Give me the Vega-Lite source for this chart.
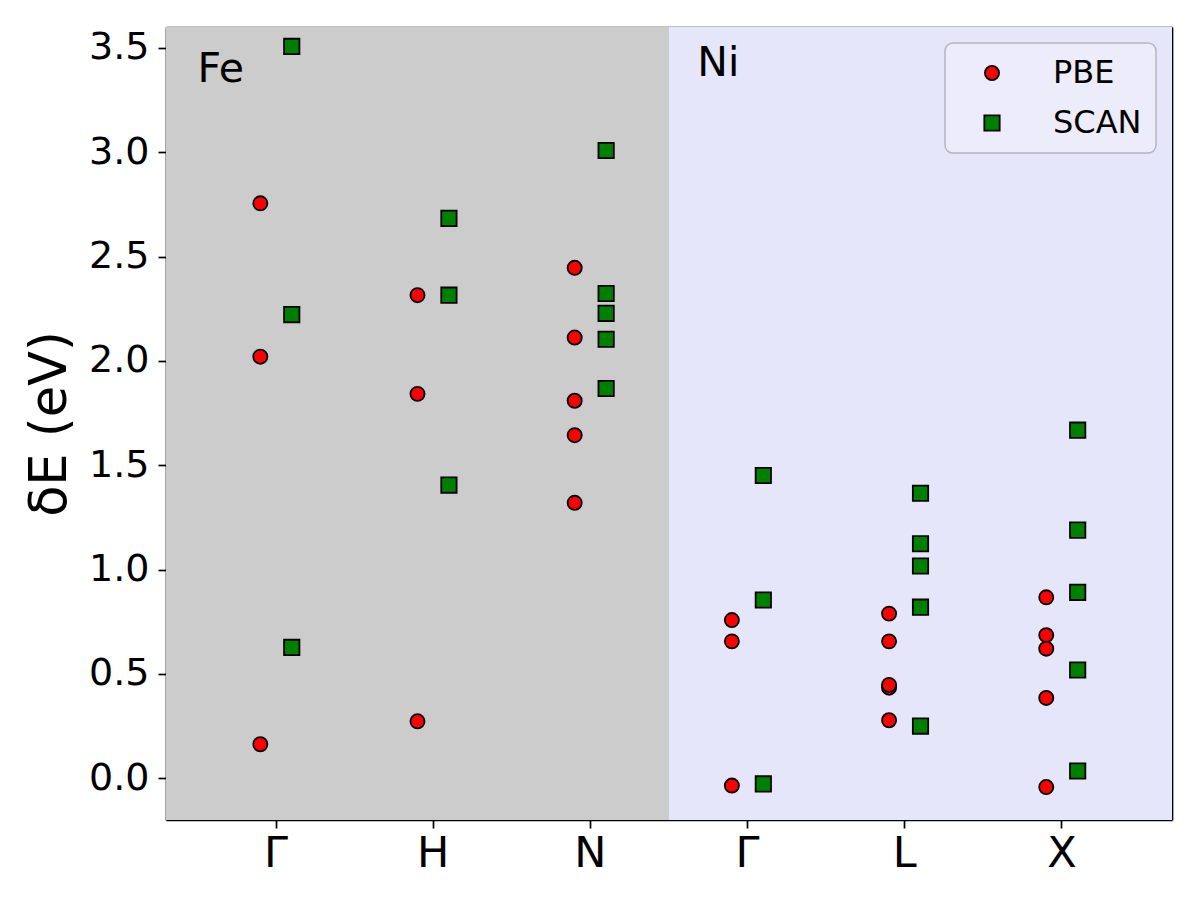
{
  "$schema": "https://vega.github.io/schema/vega-lite/v6.json",
  "width": 1006,
  "height": 793,
  "autosize": {"type": "none"},
  "padding": {"left": 166, "top": 27, "right": 28, "bottom": 80},
  "background": "white",
  "config": {
    "font": "DejaVu Sans",
    "view": {"stroke": null},
    "axis": {
      "zindex": 1,
      "grid": false,
      "domainColor": "black",
      "domainWidth": 1.7,
      "tickColor": "black",
      "tickWidth": 1.7,
      "labelColor": "black",
      "titleColor": "black",
      "labelFont": "DejaVu Sans",
      "titleFont": "DejaVu Sans"
    },
    "legend": {
      "orient": "top-right",
      "offset": 16,
      "padding": 14,
      "fillColor": "#ececfa",
      "strokeColor": "#b4b4c4",
      "strokeWidth": 1.5,
      "cornerRadius": 8,
      "labelFont": "DejaVu Sans",
      "labelFontSize": 32,
      "labelColor": "black",
      "symbolOffset": 17,
      "labelOffset": 45,
      "rowPadding": 18,
      "symbolStrokeWidth": 1.8
    }
  },
  "datasets": {
    "regions": [
      {"region": "Fe", "start": -0.7, "end": 2.5, "low": -0.2, "high": 3.6},
      {"region": "Ni", "start": 2.5, "end": 5.7, "low": -0.2, "high": 3.6}
    ],
    "labels": [
      {"label": "Fe", "x": -0.5, "y": 3.335},
      {"label": "Ni", "x": 2.68, "y": 3.367}
    ],
    "points": [
      {"kpt": "Fe-Γ", "method": "PBE", "E": 2.755},
      {"kpt": "Fe-Γ", "method": "PBE", "E": 2.02},
      {"kpt": "Fe-Γ", "method": "PBE", "E": 0.163},
      {"kpt": "Fe-Γ", "method": "SCAN", "E": 3.507},
      {"kpt": "Fe-Γ", "method": "SCAN", "E": 2.222},
      {"kpt": "Fe-Γ", "method": "SCAN", "E": 0.627},
      {"kpt": "Fe-H", "method": "PBE", "E": 2.315},
      {"kpt": "Fe-H", "method": "PBE", "E": 1.842},
      {"kpt": "Fe-H", "method": "PBE", "E": 0.273},
      {"kpt": "Fe-H", "method": "SCAN", "E": 2.683},
      {"kpt": "Fe-H", "method": "SCAN", "E": 2.315},
      {"kpt": "Fe-H", "method": "SCAN", "E": 1.405},
      {"kpt": "Fe-N", "method": "PBE", "E": 2.446},
      {"kpt": "Fe-N", "method": "PBE", "E": 2.112},
      {"kpt": "Fe-N", "method": "PBE", "E": 1.809},
      {"kpt": "Fe-N", "method": "PBE", "E": 1.644},
      {"kpt": "Fe-N", "method": "PBE", "E": 1.32},
      {"kpt": "Fe-N", "method": "SCAN", "E": 3.008},
      {"kpt": "Fe-N", "method": "SCAN", "E": 2.323},
      {"kpt": "Fe-N", "method": "SCAN", "E": 2.228},
      {"kpt": "Fe-N", "method": "SCAN", "E": 2.104},
      {"kpt": "Fe-N", "method": "SCAN", "E": 1.868},
      {"kpt": "Ni-Γ", "method": "PBE", "E": 0.758},
      {"kpt": "Ni-Γ", "method": "PBE", "E": 0.656},
      {"kpt": "Ni-Γ", "method": "PBE", "E": -0.035},
      {"kpt": "Ni-Γ", "method": "SCAN", "E": 1.451},
      {"kpt": "Ni-Γ", "method": "SCAN", "E": 0.854},
      {"kpt": "Ni-Γ", "method": "SCAN", "E": -0.027},
      {"kpt": "Ni-L", "method": "PBE", "E": 0.789},
      {"kpt": "Ni-L", "method": "PBE", "E": 0.656},
      {"kpt": "Ni-L", "method": "PBE", "E": 0.434},
      {"kpt": "Ni-L", "method": "PBE", "E": 0.447},
      {"kpt": "Ni-L", "method": "PBE", "E": 0.278},
      {"kpt": "Ni-L", "method": "SCAN", "E": 1.366},
      {"kpt": "Ni-L", "method": "SCAN", "E": 1.124},
      {"kpt": "Ni-L", "method": "SCAN", "E": 1.017},
      {"kpt": "Ni-L", "method": "SCAN", "E": 0.82},
      {"kpt": "Ni-L", "method": "SCAN", "E": 0.25},
      {"kpt": "Ni-X", "method": "PBE", "E": 0.867},
      {"kpt": "Ni-X", "method": "PBE", "E": 0.686},
      {"kpt": "Ni-X", "method": "PBE", "E": 0.621},
      {"kpt": "Ni-X", "method": "PBE", "E": 0.385},
      {"kpt": "Ni-X", "method": "PBE", "E": -0.042},
      {"kpt": "Ni-X", "method": "SCAN", "E": 1.668},
      {"kpt": "Ni-X", "method": "SCAN", "E": 1.189},
      {"kpt": "Ni-X", "method": "SCAN", "E": 0.891},
      {"kpt": "Ni-X", "method": "SCAN", "E": 0.519},
      {"kpt": "Ni-X", "method": "SCAN", "E": 0.035}
    ]
  },
  "layer": [
    {
      "layer": [
        {
          "data": {"name": "regions"},
          "mark": {"type": "rect"},
          "encoding": {
            "x": {
              "field": "start", "type": "quantitative",
              "scale": {"domain": [-0.7, 5.7], "nice": false, "zero": false},
              "axis": {"orient": "top", "labels": false, "ticks": false, "domain": true, "title": null}
            },
            "x2": {"field": "end"},
            "y": {
              "field": "low", "type": "quantitative",
              "scale": {"domain": [-0.2, 3.6], "nice": false, "zero": false},
              "axis": {"orient": "right", "labels": false, "ticks": false, "domain": true, "title": null}
            },
            "y2": {"field": "high"},
            "color": {
              "field": "region", "type": "nominal",
              "scale": {"domain": ["Fe", "Ni"], "range": ["#cccccc", "#e6e6fa"]},
              "legend": null
            }
          }
        },
        {
          "data": {"name": "labels"},
          "mark": {"type": "text", "fontSize": 41, "align": "left", "baseline": "alphabetic", "color": "black", "font": "DejaVu Sans"},
          "encoding": {
            "x": {
              "field": "x", "type": "quantitative",
              "scale": {"domain": [-0.7, 5.7], "nice": false, "zero": false},
              "axis": {"orient": "top", "labels": false, "ticks": false, "domain": true, "title": null}
            },
            "y": {
              "field": "y", "type": "quantitative",
              "scale": {"domain": [-0.2, 3.6], "nice": false, "zero": false},
              "axis": {"orient": "right", "labels": false, "ticks": false, "domain": true, "title": null}
            },
            "text": {"field": "label"}
          }
        }
      ]
    },
    {
      "data": {"name": "points"},
      "encoding": {
        "y": {
          "field": "E", "type": "quantitative",
          "scale": {"domain": [-0.2, 3.6], "nice": false, "zero": false},
          "axis": {
            "orient": "left", "values": [0, 0.5, 1, 1.5, 2, 2.5, 3, 3.5], "format": ".1f",
            "labelFontSize": 38, "tickSize": 8, "labelPadding": 9,
            "title": "δE (eV)", "titleFontSize": 51, "titleFontWeight": "normal", "titlePadding": 12
          }
        },
        "fill": {
          "field": "method", "type": "nominal",
          "scale": {"domain": ["PBE", "SCAN"], "range": ["#ff0000", "#008000"]},
          "legend": {"title": null}
        },
        "stroke": {
          "field": "method", "type": "nominal",
          "scale": {"domain": ["PBE", "SCAN"], "range": ["#000000", "#000000"]},
          "legend": {"title": null}
        },
        "shape": {
          "field": "method", "type": "nominal",
          "scale": {"domain": ["PBE", "SCAN"], "range": ["circle", "square"]},
          "legend": {"title": null}
        },
        "size": {
          "field": "method", "type": "nominal",
          "scale": {"domain": ["PBE", "SCAN"], "range": [200, 235]},
          "legend": {"title": null}
        }
      },
      "layer": [
        {
          "transform": [{"filter": "datum.method == 'PBE'"}],
          "mark": {"type": "point", "filled": true, "strokeWidth": 1.8, "opacity": 1},
          "encoding": {
            "x": {
              "field": "kpt", "type": "nominal", "bandPosition": 0.4,
              "scale": {"type": "band", "domain": ["Fe-Γ", "Fe-H", "Fe-N", "Ni-Γ", "Ni-L", "Ni-X"], "paddingInner": 0, "paddingOuter": 0.2},
              "axis": {
                "orient": "bottom", "labelExpr": "split(datum.value, '-')[1]", "labelAngle": 0, "bandPosition": 0.5,
                "labelFontSize": 43, "tickSize": 8, "labelPadding": 4, "title": null, "domain": true
              }
            }
          }
        },
        {
          "transform": [{"filter": "datum.method == 'SCAN'"}],
          "mark": {"type": "point", "filled": true, "strokeWidth": 1.8, "opacity": 1},
          "encoding": {
            "x": {
              "field": "kpt", "type": "nominal", "bandPosition": 0.6,
              "scale": {"type": "band", "domain": ["Fe-Γ", "Fe-H", "Fe-N", "Ni-Γ", "Ni-L", "Ni-X"], "paddingInner": 0, "paddingOuter": 0.2},
              "axis": {
                "orient": "bottom", "labelExpr": "split(datum.value, '-')[1]", "labelAngle": 0, "bandPosition": 0.5,
                "labelFontSize": 43, "tickSize": 8, "labelPadding": 4, "title": null, "domain": true
              }
            }
          }
        }
      ]
    }
  ],
  "resolve": {"scale": {"x": "independent"}, "axis": {"x": "independent", "y": "independent"}}
}
